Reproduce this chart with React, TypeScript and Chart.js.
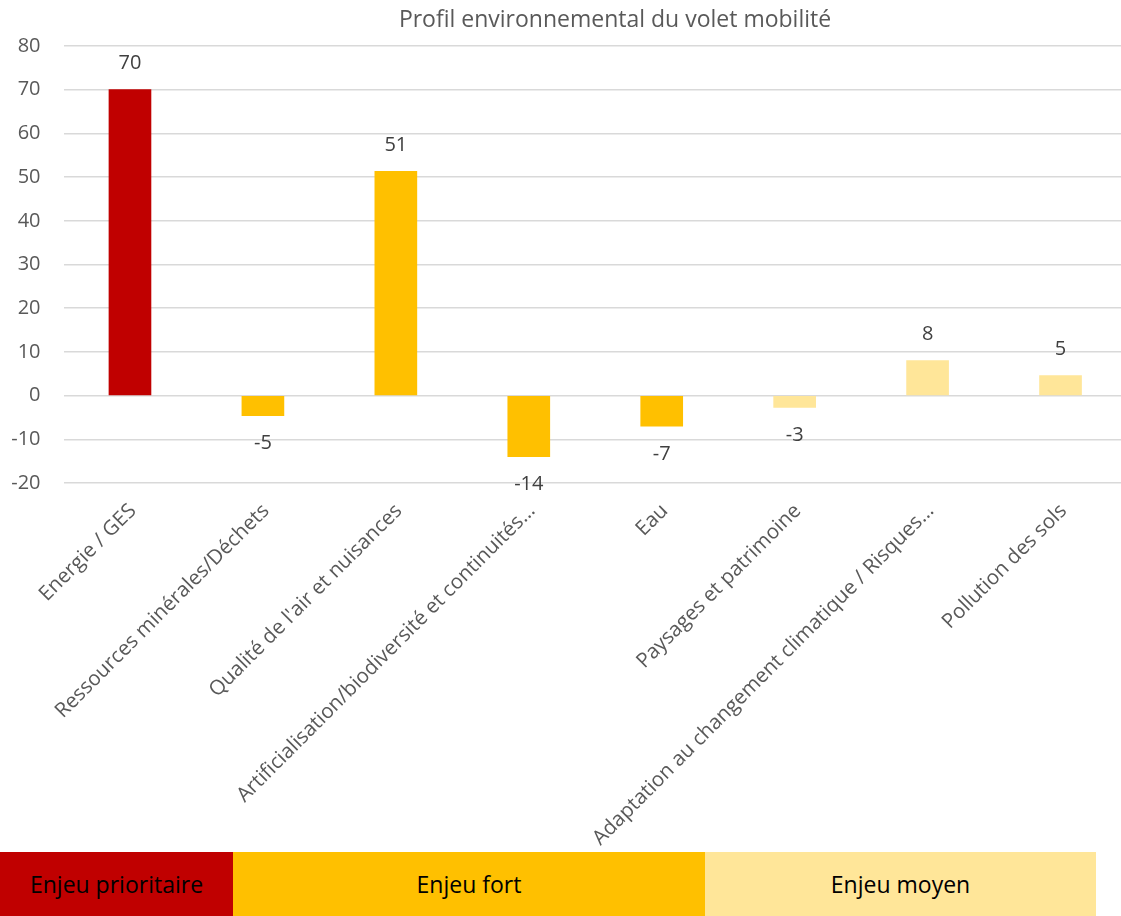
import React, { useEffect, useRef } from "react";
import { Chart, registerables } from "chart.js";

Chart.register(...registerables);

const title = "Profil environnemental du volet mobilité";
const categories = [
  "Energie / GES",
  "Ressources minérales/Déchets",
  "Qualité de l'air et nuisances",
  "Artificialisation/biodiversité et continuités…",
  "Eau",
  "Paysages et patrimoine",
  "Adaptation au changement climatique / Risques…",
  "Pollution des sols",
];
const values = [70, -4.6, 51.3, -14, -7, -2.7, 8, 4.6];
const barColors = ["#C00000", "#FFC000", "#FFC000", "#FFC000", "#FFC000", "#FFE699", "#FFE699", "#FFE699"];
const yMin = -20;
const yMax = 80;
const yStep = 10;
const legendLabels = ["Enjeu prioritaire", "Enjeu fort", "Enjeu moyen"];
const legendColors = ["#C00000", "#FFC000", "#FFE699"];
const legendWidths = [233, 472, 391];

const FONT = "'Open Sans', sans-serif";

export default function App() {
  const ref = useRef<HTMLCanvasElement | null>(null);

  useEffect(() => {
    if (!ref.current) return;
    const titlePlugin = {
      id: "customTitle",
      afterDraw(chart: any) {
        const ctx = chart.ctx;
        ctx.save();
        ctx.font = `23px ${FONT}`;
        ctx.fillStyle = "#595959";
        ctx.textAlign = "center";
        ctx.textBaseline = "middle";
        ctx.fillText(title, 615, 20);
        ctx.restore();
      },
    };
    const labelPlugin = {
      id: "valueLabels",
      afterDatasetsDraw(chart: any) {
        const ctx = chart.ctx;
        const meta = chart.getDatasetMeta(0);
        ctx.save();
        ctx.font = `20px ${FONT}`;
        ctx.fillStyle = "#404040";
        ctx.textAlign = "center";
        ctx.textBaseline = "middle";
        meta.data.forEach((el: any, i: number) => {
          const v = values[i];
          const y = v >= 0 ? el.y - 26 : el.y + 28;
          ctx.fillText(String(Math.round(v)), el.x, y);
        });
        ctx.restore();
      },
    };
    const chart = new Chart(ref.current, {
      type: "bar",
      data: {
        labels: categories,
        datasets: [
          {
            data: values,
            backgroundColor: barColors,
            barThickness: 42,
          },
        ],
      },
      options: {
        responsive: false,
        animation: false,
        layout: { padding: { top: 46, right: 3, left: 0, bottom: 0 } },
        plugins: { legend: { display: false }, tooltip: { enabled: false }, title: { display: false } },
        scales: {
          x: {
            grid: { display: false, drawTicks: false },
            border: { display: false },
            ticks: {
              color: "#595959",
              font: { family: FONT, size: 20.5 },
              maxRotation: 45,
              minRotation: 45,
              autoSkip: false,
              padding: 16,
              labelOffset: 3,
            },
            afterFit(scale: any) {
              scale.height = 850 - 483;
            },
          },
          y: {
            min: yMin,
            max: yMax,
            grid: { color: "#D9D9D9", lineWidth: 1.5, drawTicks: false },
            border: { display: false },
            ticks: {
              stepSize: yStep,
              color: "#595959",
              font: { family: FONT, size: 20 },
              padding: 23,
            },
            afterFit(scale: any) {
              scale.width = 63.5;
            },
          },
        },
      },
      plugins: [titlePlugin, labelPlugin],
    });
    return () => chart.destroy();
  }, []);

  return (
    <div style={{ position: "absolute", left: 0, top: 0, width: 1121, height: 916, overflow: "hidden", background: "#fff" }}>
      <canvas ref={ref} width={1130} height={850} style={{ display: "block" }} />
      <div style={{ position: "absolute", left: 0, top: 852, display: "flex", height: 64 }}>
        {legendLabels.map((l, i) => (
          <div
            key={l}
            style={{
              width: legendWidths[i],
              height: 64,
              background: legendColors[i],
              display: "flex",
              alignItems: "center",
              justifyContent: "center",
              fontFamily: FONT,
              fontSize: 23,
              color: "#000",
            }}
          >
            {l}
          </div>
        ))}
      </div>
    </div>
  );
}
